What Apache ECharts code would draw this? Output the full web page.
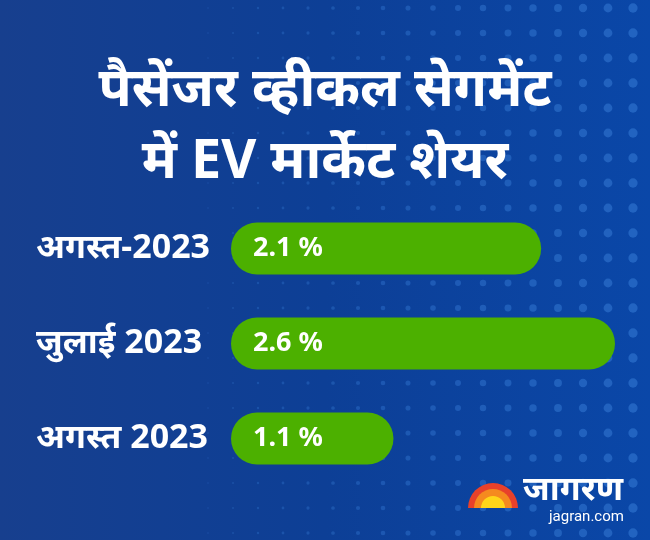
<!DOCTYPE html>
<html>
<head>
<meta charset="utf-8">
<script src="https://cdn.jsdelivr.net/npm/echarts@6/dist/echarts.min.js"></script>
<style>
  html, body { margin: 0; padding: 0; }
  #chart { width: 650px; height: 540px; }
</style>
</head>
<body>
<div id="chart"></div>
<script>
// data
var categories = ['अगस्त-2023', 'जुलाई 2023', 'अगस्त 2023'];
var shareValues = [2.1, 2.6, 1.1];
var titleLines = ['पैसेंजर व्हीकल सेगमेंट', 'में EV मार्केट शेयर'];

var myChart = echarts.init(document.getElementById('chart'));

// dotted pattern for the background
function dotPattern() {
    var c = document.createElement('canvas');
    c.width = 650; c.height = 540;
    var ctx = c.getContext('2d');
    var g = ctx.createLinearGradient(0, 0, 650, 0);
    g.addColorStop(0, '#173f8e');
    g.addColorStop(0.5, '#0d3f96');
    g.addColorStop(1, '#0a47a8');
    ctx.fillStyle = g;
    ctx.fillRect(0, 0, 650, 540);
    for (var y = 8; y < 540; y += 25) {
        for (var x = 8; x < 650; x += 25) {
            var t = x / 650;
            if (t < 0.3) continue;
            var r = 0.6 + (t - 0.3) * 6;
            ctx.beginPath();
            ctx.fillStyle = 'rgba(60,130,220,' + (0.15 + t * 0.35) + ')';
            ctx.arc(x, y, r, 0, Math.PI * 2);
            ctx.fill();
        }
    }
    return c;
}

var option = {
    backgroundColor: { image: dotPattern(), repeat: 'no-repeat' },
    title: {
        text: titleLines.join('\n'),
        left: 'center',
        top: 50,
        textStyle: {
            color: '#ffffff',
            fontSize: 54,
            fontWeight: 'bold',
            lineHeight: 72,
            fontFamily: 'Noto Sans, sans-serif'
        }
    },
    grid: {
        left: 231,
        right: 35,
        top: 201,
        bottom: 54
    },
    xAxis: {
        type: 'value',
        min: 0,
        max: 2.6,
        show: false
    },
    yAxis: {
        type: 'category',
        inverse: true,
        data: categories,
        axisLine: { show: false },
        axisTick: { show: false },
        axisLabel: {
            align: 'left',
            margin: 195,
            color: '#ffffff',
            fontSize: 34,
            fontWeight: 'bold',
            fontFamily: 'Noto Sans, sans-serif'
        }
    },
    series: [{
        type: 'bar',
        data: shareValues,
        barWidth: 52,
        itemStyle: {
            color: '#4cb000',
            borderRadius: 26
        },
        label: {
            show: true,
            position: 'insideLeft',
            distance: 22,
            formatter: '{c} %',
            color: '#ffffff',
            fontSize: 27,
            fontWeight: 'bold',
            fontFamily: 'Noto Sans, sans-serif'
        }
    }],
    graphic: [
        {
            type: 'sector',
            shape: { cx: 493, cy: 508, r0: 0, r: 25, startAngle: Math.PI, endAngle: Math.PI * 2 },
            style: { fill: '#e8412a' }
        },
        {
            type: 'sector',
            shape: { cx: 493, cy: 508, r0: 0, r: 19, startAngle: Math.PI, endAngle: Math.PI * 2 },
            style: { fill: '#f58a1f' }
        },
        {
            type: 'sector',
            shape: { cx: 493, cy: 508, r0: 0, r: 12, startAngle: Math.PI, endAngle: Math.PI * 2 },
            style: { fill: '#ffd51a' }
        },
        {
            type: 'text',
            left: 523,
            top: 473,
            style: {
                text: 'जागरण',
                fill: '#ffffff',
                font: 'bold 34px Noto Sans, sans-serif'
            }
        },
        {
            type: 'text',
            left: 549,
            top: 510,
            style: {
                text: 'jagran.com',
                fill: '#ffffff',
                font: '15px Roboto, sans-serif'
            }
        }
    ]
};

myChart.setOption(option);
</script>
</body>
</html>
